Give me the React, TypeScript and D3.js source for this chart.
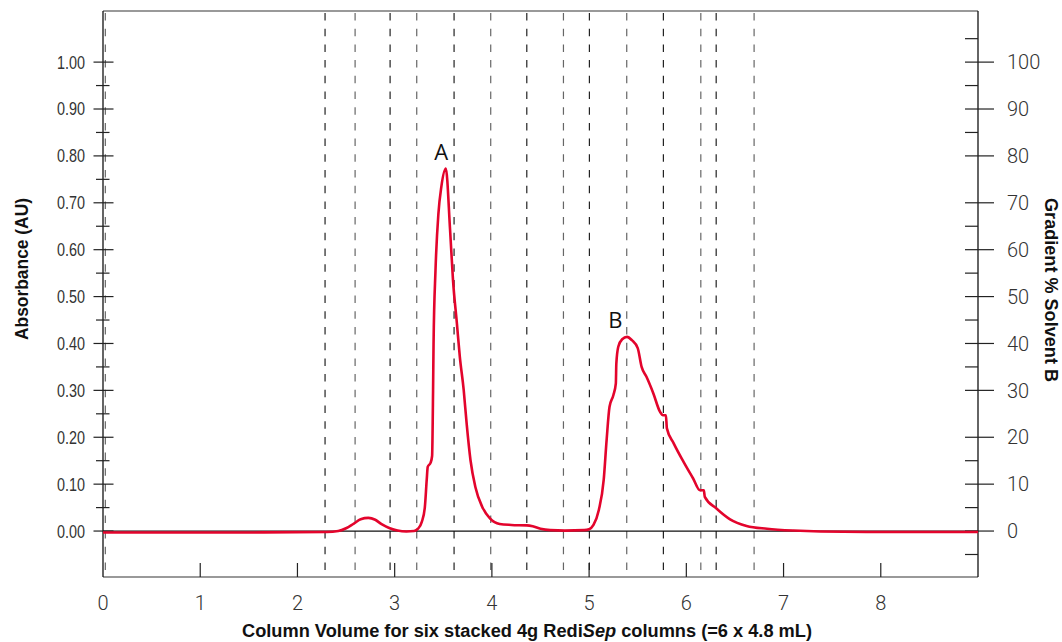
import React from "react";
import * as d3 from "d3";

const cvValues = [0, 1.4, 2.3, 2.42, 2.5, 2.58, 2.65, 2.73, 2.8, 2.87, 2.95, 3.03, 3.12, 3.2, 3.24, 3.28, 3.31, 3.33, 3.34, 3.37, 3.385, 3.395, 3.4, 3.42, 3.45, 3.48, 3.526, 3.57, 3.6, 3.64, 3.67, 3.71, 3.74, 3.78, 3.83, 3.9, 3.98, 4.08, 4.2, 4.36, 4.42, 4.5, 4.6, 4.75, 4.95, 5.0, 5.045, 5.1, 5.15, 5.18, 5.21, 5.25, 5.275, 5.28, 5.3, 5.34, 5.39, 5.44, 5.5, 5.54, 5.59, 5.66, 5.73, 5.76, 5.79, 5.8, 5.87, 5.97, 6.07, 6.14, 6.18, 6.19, 6.31, 6.45, 6.62, 6.83, 7.1, 7.38, 8.0, 9.0];
const absorbance = [-0.003, -0.003, -0.002, 0.0, 0.006, 0.016, 0.025, 0.028, 0.024, 0.014, 0.006, 0.001, -0.001, 0.0, 0.005, 0.02, 0.05, 0.11, 0.137, 0.146, 0.16, 0.3, 0.4, 0.556, 0.677, 0.734, 0.773, 0.642, 0.535, 0.443, 0.372, 0.301, 0.23, 0.151, 0.094, 0.052, 0.027, 0.015, 0.013, 0.012, 0.01, 0.005, 0.002, 0.001, 0.002, 0.004, 0.013, 0.045, 0.109, 0.194, 0.265, 0.29, 0.315, 0.357, 0.393, 0.409, 0.414, 0.407, 0.39, 0.35, 0.329, 0.294, 0.254, 0.247, 0.247, 0.219, 0.187, 0.148, 0.112, 0.087, 0.087, 0.073, 0.048, 0.025, 0.011, 0.005, 0.001, -0.001, -0.002, -0.002];

const fractionLines = [0.024, 2.284, 2.593, 2.953, 3.227, 3.611, 3.988, 4.359, 4.736, 5.003, 5.387, 5.764, 6.149, 6.307, 6.697];

const xTicks = [0, 1, 2, 3, 4, 5, 6, 7, 8];
const leftMajor = [0, 0.1, 0.2, 0.3, 0.4, 0.5, 0.6, 0.7, 0.8, 0.9, 1.0];
const leftMinor = [0.05, 0.15, 0.25, 0.35, 0.45, 0.55, 0.65, 0.75, 0.85, 0.95];
const rightMajor = [0, 10, 20, 30, 40, 50, 60, 70, 80, 90, 100];
const rightMinor = [-5, 5, 15, 35, 45, 55, 65, 85, 95, 105];

const peakLabels = [
  { name: "A", cv: 3.54, abs: 0.773 },
  { name: "B", cv: 5.3, abs: 0.414 },
];

const sans = "'Liberation Sans', Arial, sans-serif";
const light = "Roboto, 'Liberation Sans', sans-serif";

export default function App() {
  const W = 1062, H = 642;
  const left = 103, right = 978, top = 11, bottom = 577;
  const x = d3.scaleLinear().domain([0, 9]).range([left, right]);
  const y = d3.scaleLinear().domain([-0.098, 1.109]).range([bottom, top]);
  const yR = d3.scaleLinear().domain([-9.8, 110.9]).range([bottom, top]);

  const pts = cvValues.map((c, i) => [c, absorbance[i]] as [number, number]);
  const line = d3
    .line<[number, number]>()
    .x((d) => x(d[0]))
    .y((d) => y(d[1]))
    .curve(d3.curveMonotoneX);

  const labelColor = "#333";

  return (
    <svg width={W} height={H} style={{ position: "absolute", left: 0, top: 0, background: "#fff" }}>
      {/* frame top and bottom */}
      <line x1={left} x2={right} y1={top} y2={top} stroke="#777" strokeWidth={1.3} />
      <line x1={left} x2={right} y1={bottom} y2={bottom} stroke="#777" strokeWidth={1.3} />

      {/* fraction dashed lines */}
      {fractionLines.map((c, i) => (
        <line
          key={"f" + i}
          x1={x(c)}
          x2={x(c)}
          y1={top}
          y2={bottom}
          stroke={i % 2 === 0 ? "#666" : "#222"}
          strokeWidth={1.2}
          strokeDasharray="7.5,8.2"
          strokeDashoffset={-2}
        />
      ))}

      {/* zero line */}
      <line x1={left} x2={right} y1={y(0)} y2={y(0)} stroke="#111" strokeWidth={1.2} />

      {/* left axis */}
      <line x1={left} x2={left} y1={top} y2={bottom} stroke="#111" strokeWidth={1.3} />
      {leftMajor.map((v) => (
        <g key={"lm" + v}>
          <line x1={left - 9.5} x2={left + 10.5} y1={y(v)} y2={y(v)} stroke="#222" strokeWidth={1.2} />
          <text
            transform={`translate(85,${y(v)}) scale(0.8,1)`}
            dy="0.36em"
            textAnchor="end"
            fontFamily={sans}
            fontSize={18}
            fill={labelColor}
          >
            {v.toFixed(2)}
          </text>
        </g>
      ))}
      {leftMinor.map((v) => (
        <line key={"ln" + v} x1={left - 7} x2={left + 6.5} y1={y(v)} y2={y(v)} stroke="#222" strokeWidth={1.2} />
      ))}

      {/* right axis */}
      <line x1={right} x2={right} y1={top} y2={bottom} stroke="#111" strokeWidth={1.3} />
      {rightMajor.map((v) => (
        <g key={"rm" + v}>
          <line x1={right - 13} x2={right + 16} y1={yR(v)} y2={yR(v)} stroke="#222" strokeWidth={1.2} />
          <text
            x={1007}
            y={yR(v)}
            dy="0.36em"
            textAnchor="start"
            fontFamily={light}
            fontWeight={300}
            fontSize={20}
            fill={labelColor}
          >
            {v}
          </text>
        </g>
      ))}
      {rightMinor.map((v) => (
        <line key={"rn" + v} x1={right - 13} x2={right} y1={yR(v)} y2={yR(v)} stroke="#222" strokeWidth={1.2} />
      ))}

      {/* bottom axis ticks */}
      {xTicks.map((v) => (
        <g key={"x" + v}>
          {v > 0 && <line x1={x(v)} x2={x(v)} y1={bottom - 14} y2={bottom} stroke="#222" strokeWidth={1.2} />}
          <text
            x={x(v)}
            y={610}
            textAnchor="middle"
            fontFamily={light}
            fontWeight={300}
            fontSize={20}
            fill={labelColor}
          >
            {v}
          </text>
        </g>
      ))}

      {/* chromatogram */}
      <path d={line(pts) || ""} fill="none" stroke="#e3042c" strokeWidth={2.6} strokeLinejoin="round" />

      {/* peak labels */}
      {peakLabels.map((p) => (
        <text
          key={p.name}
          x={x(p.cv) + (p.name === "A" ? -6 : -3)}
          y={y(p.abs) - 9}
          textAnchor="middle"
          fontFamily="'Open Sans', 'Noto Sans', sans-serif"
          fontSize={22}
          fill="#111"
        >
          {p.name}
        </text>
      ))}

      {/* axis titles */}
      <text
        transform={`translate(28,269) rotate(-90)`}
        textAnchor="middle"
        fontFamily={sans}
        fontWeight="bold"
        fontSize={18}
        textLength={142}
        lengthAdjust="spacingAndGlyphs"
        fill="#111"
      >
        Absorbance (AU)
      </text>
      <text
        transform={`translate(1045,290) rotate(90)`}
        textAnchor="middle"
        fontFamily={sans}
        fontWeight="bold"
        fontSize={18}
        textLength={184}
        lengthAdjust="spacingAndGlyphs"
        fill="#111"
      >
        Gradient % Solvent B
      </text>
      <text
        x={527}
        y={637}
        textAnchor="middle"
        fontFamily={sans}
        fontWeight="bold"
        fontSize={18}
        textLength={570}
        lengthAdjust="spacingAndGlyphs"
        fill="#111"
      >
        Column Volume for six stacked 4g Redi<tspan fontStyle="italic">Sep</tspan> columns (=6 x 4.8 mL)
      </text>
    </svg>
  );
}
